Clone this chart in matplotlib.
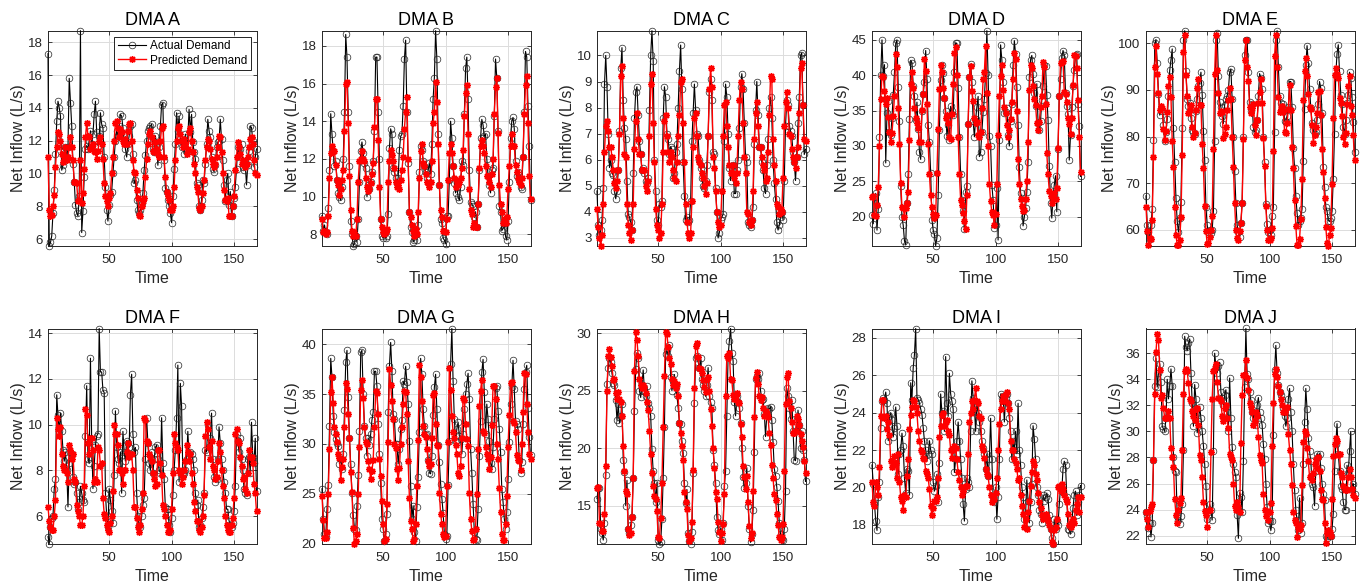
import numpy as np
import matplotlib
matplotlib.use("Agg")
import matplotlib.pyplot as plt
from matplotlib.ticker import MultipleLocator

plt.rcParams['font.family'] = ['Liberation Sans', 'DejaVu Sans']

# ---------------- data (hourly, 168 steps) ----------------
hours = list(range(1, 169))

actual_a = [17.3, 5.6, 5.8, 6.2, 7.6, 9.0, 11.2, 13.2, 14.4, 14.0, 13.5, 10.2, 10.5, 11.4, 11.6, 11.0, 11.6, 15.8, 14.3, 12.9, 10.6, 9.5, 8.1, 7.6,
            7.4, 8.6, 18.7, 6.4, 7.7, 9.8, 11.5, 11.7, 11.5, 12.0, 12.6, 11.8, 12.4, 13.6, 14.4, 12.5, 11.7, 12.3, 13.7, 13.0, 12.8, 11.0, 9.2, 7.8,
            7.1, 8.1, 8.7, 8.9, 10.0, 11.0, 12.0, 12.6, 12.3, 12.9, 13.6, 13.5, 12.8, 12.0, 11.5, 11.0, 11.8, 12.3, 12.9, 13.0, 11.2, 9.4, 9.6, 8.4,
            7.8, 7.6, 7.8, 8.2, 8.8, 10.2, 11.1, 12.0, 12.6, 12.8, 12.9, 13.0, 11.5, 11.3, 12.3, 11.8, 10.5, 11.6, 12.9, 14.2, 14.3, 10.8, 9.1, 8.9,
            8.4, 8.0, 7.6, 7.0, 8.6, 10.3, 11.8, 13.7, 12.6, 13.5, 12.1, 11.6, 12.0, 11.2, 12.4, 11.4, 12.2, 13.9, 12.5, 13.6, 11.9, 11.3, 10.9, 9.4,
            9.3, 8.0, 7.8, 8.4, 9.6, 9.4, 10.6, 11.8, 13.3, 12.6, 12.2, 11.0, 10.3, 10.1, 10.5, 11.6, 11.9, 12.0, 13.3, 12.1, 10.8, 9.3, 8.3, 9.6,
            10.0, 8.1, 8.9, 7.4, 8.0, 8.5, 9.2, 10.3, 11.6, 11.0, 11.5, 11.8, 10.4, 10.2, 10.5, 9.3, 10.5, 11.4, 12.9, 12.8, 12.0, 10.4, 11.0, 11.5]
predicted_a = [11.0, 7.8, 7.4, 7.5, 8.0, 8.7, 10.4, 11.6, 12.5, 12.4, 12.0, 11.2, 10.7, 11.0, 11.6, 10.8, 11.0, 11.6, 12.2, 11.6, 10.8, 9.5, 9.5, 9.4,
               8.3, 8.4, 10.8, 8.2, 8.8, 10.3, 12.2, 13.1, 12.3, 12.2, 11.5, 11.6, 11.8, 11.4, 11.3, 10.9, 11.4, 12.0, 12.2, 11.8, 10.9, 9.4, 8.6, 8.3,
               8.0, 8.5, 8.8, 10.0, 11.0, 12.0, 13.1, 13.2, 12.8, 12.2, 12.7, 12.5, 12.0, 11.8, 12.1, 11.8, 12.6, 13.0, 13.1, 12.0, 10.8, 10.1, 10.0, 9.0,
               8.5, 7.5, 7.4, 8.0, 8.3, 8.5, 9.8, 10.9, 11.8, 12.4, 12.6, 12.2, 11.4, 11.3, 11.9, 11.5, 11.2, 11.0, 12.0, 12.8, 12.9, 11.0, 9.8, 8.9,
               8.6, 8.4, 7.8, 7.8, 8.0, 9.2, 10.8, 12.0, 12.8, 12.9, 12.4, 12.0, 11.6, 12.1, 11.8, 11.2, 11.5, 12.5, 12.8, 12.0, 11.3, 10.6, 10.0, 9.2,
               8.9, 7.9, 7.8, 8.0, 8.8, 9.6, 10.8, 11.6, 12.1, 12.0, 11.5, 10.9, 10.6, 10.4, 10.6, 11.0, 11.6, 12.3, 12.2, 11.3, 10.0, 9.0, 8.4, 8.3,
               8.5, 7.4, 7.4, 7.4, 8.0, 8.6, 10.2, 11.0, 11.9, 11.6, 11.2, 10.6, 10.8, 10.7, 10.4, 10.6, 11.0, 11.6, 12.1, 12.2, 11.8, 10.8, 10.0, 9.9]

actual_b = [9.0, 8.2, 8.5, 8.1, 8.0, 9.4, 11.4, 14.4, 13.3, 12.4, 11.6, 11.9, 10.9, 10.2, 10.0, 9.8, 10.5, 12.0, 14.5, 18.6, 17.4, 14.5, 11.6, 8.7,
            8.0, 7.4, 7.5, 7.9, 7.6, 8.8, 10.8, 12.4, 12.9, 12.3, 11.8, 11.5, 10.0, 10.6, 10.4, 10.8, 11.3, 11.9, 13.5, 17.4, 17.4, 14.5, 12.0, 8.8,
            7.9, 7.8, 8.2, 7.8, 7.9, 9.1, 12.6, 13.6, 13.3, 11.5, 11.3, 11.0, 10.7, 11.0, 12.5, 13.2, 13.3, 14.8, 17.3, 18.3, 14.5, 11.8, 9.2, 8.4,
            8.1, 7.6, 7.7, 8.0, 7.7, 8.5, 11.3, 12.7, 12.5, 11.9, 11.6, 11.3, 11.0, 11.4, 11.8, 11.2, 12.8, 15.2, 16.3, 18.8, 17.3, 13.3, 10.6, 8.8,
            8.6, 7.8, 7.7, 7.5, 9.0, 9.0, 10.9, 14.0, 13.1, 11.6, 10.7, 10.2, 10.5, 10.0, 9.8, 10.5, 11.9, 11.7, 14.4, 16.8, 17.4, 15.2, 11.4, 9.7,
            9.6, 9.5, 8.9, 9.2, 8.4, 9.6, 11.4, 13.1, 14.1, 13.8, 13.2, 13.3, 12.0, 11.1, 10.6, 10.2, 11.4, 11.5, 14.3, 17.3, 16.3, 13.5, 9.5, 9.2,
            8.2, 8.3, 8.6, 7.9, 7.7, 8.7, 10.8, 13.1, 14.0, 14.2, 13.6, 11.9, 11.1, 11.3, 10.9, 10.5, 10.4, 12.1, 14.5, 17.7, 17.4, 14.8, 12.7, 9.8]
predicted_b = [8.8, 8.1, 8.2, 8.0, 8.1, 9.0, 11.0, 12.3, 12.7, 12.4, 12.4, 11.7, 10.9, 10.6, 10.1, 10.4, 10.9, 11.4, 13.5, 16.0, 16.1, 13.9, 11.1, 9.3,
               8.2, 7.9, 8.1, 7.9, 8.8, 10.8, 11.9, 12.0, 12.4, 12.0, 11.9, 11.0, 10.5, 10.3, 10.4, 10.7, 11.2, 11.8, 13.7, 15.2, 15.2, 13.0, 10.5, 8.8,
               8.4, 8.1, 8.0, 8.1, 8.3, 10.8, 11.9, 12.5, 12.2, 11.9, 11.5, 10.8, 10.5, 10.6, 10.4, 10.9, 11.4, 12.1, 13.6, 14.5, 15.3, 12.0, 9.2, 8.9,
               8.5, 8.2, 7.9, 8.3, 8.0, 9.2, 11.0, 12.4, 12.8, 11.8, 11.6, 11.2, 10.8, 10.7, 10.5, 10.8, 11.9, 13.9, 14.5, 16.1, 15.0, 12.8, 10.6, 9.3,
               8.9, 8.2, 8.2, 8.1, 8.8, 10.9, 12.3, 12.8, 12.3, 11.6, 11.0, 10.5, 10.9, 10.6, 10.8, 11.0, 11.5, 12.5, 14.3, 15.5, 15.9, 13.3, 10.4, 9.3,
               9.1, 8.4, 8.6, 8.4, 8.4, 9.6, 11.5, 12.7, 13.0, 12.7, 12.3, 11.6, 11.1, 11.1, 10.8, 10.5, 11.2, 12.0, 14.4, 15.8, 16.3, 13.4, 10.6, 9.6,
               9.2, 8.6, 8.8, 8.6, 8.9, 10.4, 11.6, 12.7, 13.3, 12.7, 12.7, 11.7, 11.3, 11.0, 10.8, 10.6, 11.0, 12.1, 14.4, 15.9, 16.4, 13.9, 11.1, 9.9]

actual_c = [4.8, 3.5, 3.1, 3.3, 3.7, 4.9, 8.9, 10.0, 8.8, 7.0, 5.7, 6.0, 5.5, 5.4, 4.8, 4.5, 4.8, 5.6, 7.1, 9.5, 10.3, 8.3, 7.2, 6.8,
            5.2, 3.9, 3.8, 3.6, 3.3, 5.5, 7.6, 8.6, 8.8, 7.7, 6.7, 6.2, 5.6, 5.7, 5.5, 5.2, 5.1, 5.3, 7.9, 10.0, 10.95, 9.8, 6.0, 4.8,
            3.7, 3.5, 4.3, 4.2, 4.4, 7.6, 8.8, 8.4, 7.0, 6.8, 6.2, 6.5, 6.4, 5.3, 5.5, 6.3, 6.6, 8.0, 9.4, 10.4, 8.7, 5.9, 4.6, 3.7,
            3.8, 3.6, 3.7, 4.4, 6.7, 7.8, 8.9, 7.9, 7.0, 6.9, 6.0, 5.7, 5.3, 5.0, 4.9, 5.2, 5.8, 6.9, 8.6, 9.1, 8.3, 6.3, 6.2, 4.9,
            4.0, 3.0, 3.2, 3.7, 3.8, 3.9, 6.7, 8.9, 8.4, 7.0, 5.7, 5.2, 5.6, 5.8, 4.7, 4.7, 5.6, 6.0, 7.2, 8.8, 9.3, 8.7, 7.4, 6.1,
            5.9, 3.6, 3.5, 3.4, 3.7, 4.2, 6.6, 7.9, 9.0, 7.7, 6.5, 6.5, 5.9, 5.6, 4.9, 4.7, 5.8, 6.8, 8.0, 8.4, 7.6, 6.0, 5.1, 4.5,
            3.6, 3.3, 3.5, 3.8, 4.0, 3.7, 5.2, 7.3, 8.3, 8.1, 7.3, 7.1, 6.9, 6.3, 5.9, 5.2, 6.1, 7.4, 8.4, 10.0, 10.1, 8.1, 6.2, 6.4]
predicted_c = [4.1, 3.4, 3.0, 2.7, 3.1, 4.3, 6.3, 7.3, 7.5, 7.1, 6.5, 6.5, 6.1, 5.6, 5.1, 4.9, 5.2, 5.6, 7.0, 9.2, 9.6, 7.6, 6.2, 6.1,
               4.3, 3.5, 3.2, 2.9, 3.3, 4.3, 6.4, 7.5, 7.8, 6.8, 6.2, 6.2, 5.6, 5.6, 5.6, 5.0, 4.8, 5.2, 6.9, 8.9, 9.3, 7.4, 5.9, 4.1,
               3.5, 3.3, 3.0, 3.2, 4.3, 6.3, 7.5, 7.7, 6.9, 6.3, 5.9, 6.3, 6.1, 5.6, 5.3, 5.2, 5.9, 6.9, 7.7, 9.0, 9.1, 7.4, 5.9, 4.3,
               3.6, 3.2, 3.0, 3.2, 4.4, 6.5, 7.6, 7.8, 6.9, 6.1, 5.9, 5.8, 5.5, 5.3, 5.0, 4.7, 5.1, 6.9, 8.7, 9.5, 8.8, 6.1, 5.7, 4.8,
               4.0, 3.6, 3.4, 3.5, 4.8, 6.9, 8.1, 8.2, 7.3, 6.5, 5.8, 5.5, 5.5, 5.8, 5.3, 5.1, 5.5, 6.9, 8.3, 9.0, 8.7, 7.4, 6.1, 5.5,
               4.0, 3.9, 3.6, 3.5, 3.7, 4.8, 6.8, 7.8, 8.2, 7.3, 6.5, 6.5, 6.1, 5.8, 5.6, 5.2, 5.3, 6.3, 7.7, 9.2, 9.1, 6.8, 5.8, 5.2,
               4.3, 4.2, 3.9, 4.1, 4.0, 5.3, 7.3, 8.2, 8.6, 8.0, 7.0, 6.9, 6.4, 6.1, 5.9, 5.7, 6.1, 6.5, 7.8, 9.5, 9.7, 8.1, 6.8, 6.7]

actual_d = [20.3, 19.0, 22.8, 23.3, 18.1, 21.1, 31.2, 40.1, 45.0, 39.9, 41.5, 27.6, 34.7, 36.3, 32.0, 31.5, 34.0, 37.2, 40.4, 44.5, 45.0, 38.3, 33.6, 24.4,
            19.9, 18.8, 16.6, 16.0, 22.0, 26.0, 33.8, 42.1, 41.8, 38.5, 37.1, 33.7, 36.2, 32.4, 29.2, 28.1, 35.0, 37.3, 39.0, 43.5, 39.5, 33.0, 30.5, 26.2,
            19.6, 18.1, 17.5, 15.9, 17.0, 23.0, 32.3, 39.3, 41.5, 40.3, 36.8, 35.0, 31.4, 33.0, 30.8, 35.6, 35.0, 34.4, 40.5, 44.6, 44.5, 38.2, 31.3, 26.0,
            22.3, 20.8, 18.2, 23.5, 24.4, 33.1, 39.8, 41.6, 39.0, 33.5, 31.3, 33.8, 35.5, 37.0, 28.5, 29.1, 32.0, 34.8, 36.7, 40.3, 46.3, 40.0, 31.4, 30.0,
            24.5, 22.4, 18.4, 18.8, 24.0, 16.7, 30.9, 44.3, 42.2, 39.0, 34.6, 34.8, 35.3, 31.5, 30.0, 33.5, 36.0, 41.5, 44.9, 43.0, 38.4, 33.0, 27.0, 23.4,
            22.7, 18.7, 20.0, 21.2, 23.5, 27.8, 39.8, 42.2, 42.8, 40.2, 37.5, 35.7, 38.8, 33.3, 32.2, 33.6, 36.5, 38.5, 41.5, 41.3, 37.2, 33.7, 27.2, 22.0,
            19.8, 22.8, 24.5, 25.8, 20.7, 29.6, 37.0, 39.5, 42.5, 43.5, 42.8, 37.5, 35.7, 34.5, 28.0, 31.5, 35.5, 38.5, 40.8, 42.8, 43.0, 36.0, 32.8, 25.7]
predicted_d = [22.8, 22.9, 20.2, 20.1, 21.7, 24.2, 30.0, 36.6, 39.9, 39.8, 37.8, 36.0, 36.8, 34.1, 32.0, 30.5, 31.8, 34.2, 37.0, 43.0, 41.1, 35.3, 30.3, 24.7,
               21.4, 21.2, 20.0, 21.3, 21.9, 23.5, 30.8, 38.7, 40.5, 38.2, 35.3, 34.0, 33.2, 32.5, 30.6, 30.5, 35.1, 37.4, 42.3, 40.6, 36.0, 30.3, 26.0, 23.0,
               21.4, 20.4, 19.8, 20.2, 26.2, 32.4, 38.0, 41.5, 40.5, 38.2, 36.8, 34.0, 34.4, 33.2, 31.3, 31.0, 34.5, 38.7, 43.1, 44.0, 40.0, 31.3, 26.0, 22.4,
               21.7, 20.5, 19.4, 18.2, 23.0, 33.1, 39.8, 41.3, 37.8, 36.4, 34.0, 33.2, 33.4, 31.5, 31.3, 32.0, 35.4, 39.5, 40.4, 44.2, 37.5, 30.0, 24.6, 22.2,
               20.6, 20.2, 18.8, 20.4, 24.6, 31.6, 37.0, 39.9, 41.5, 37.9, 35.5, 34.7, 33.0, 31.2, 32.3, 33.8, 36.2, 39.4, 43.2, 42.3, 35.0, 28.1, 24.6, 22.5,
               21.5, 20.8, 21.0, 22.5, 25.0, 30.6, 37.9, 41.5, 41.0, 38.5, 36.7, 35.8, 33.3, 32.2, 33.4, 35.5, 37.0, 41.9, 41.2, 36.0, 29.0, 26.0, 23.7, 22.9,
               22.0, 22.6, 23.4, 22.5, 24.0, 29.7, 37.0, 41.8, 41.9, 42.0, 37.6, 37.3, 36.2, 34.0, 33.1, 31.7, 34.0, 38.6, 42.9, 42.7, 41.0, 36.5, 31.2, 26.3]

actual_e = [67.3, 61.0, 59.5, 58.0, 61.0, 64.5, 79.2, 100.0, 100.8, 95.7, 89.2, 84.6, 86.0, 85.5, 82.5, 79.0, 81.0, 83.7, 88.8, 94.2, 96.5, 98.8, 81.8, 74.5,
            66.8, 61.8, 59.5, 62.5, 66.0, 81.8, 100.6, 102.7, 94.0, 88.0, 86.6, 87.2, 84.0, 81.5, 81.0, 80.5, 85.5, 88.0, 90.8, 91.5, 93.8, 89.0, 81.2, 74.9,
            65.0, 61.0, 59.5, 60.0, 59.3, 60.0, 64.0, 79.0, 100.7, 102.2, 93.0, 87.5, 86.3, 84.5, 82.8, 86.8, 88.0, 88.8, 90.0, 93.8, 94.5, 88.0, 80.0, 72.7,
            65.7, 61.0, 59.5, 58.5, 61.5, 65.8, 80.0, 97.5, 100.6, 100.8, 93.8, 87.5, 85.5, 87.0, 82.0, 81.0, 81.5, 83.6, 88.8, 93.5, 92.5, 90.2, 80.0, 74.5,
            65.5, 61.2, 59.5, 60.0, 59.0, 63.0, 64.8, 81.0, 100.7, 102.7, 95.0, 88.8, 87.3, 85.5, 87.0, 83.3, 83.2, 84.5, 86.4, 91.8, 91.8, 86.3, 77.5, 73.3,
            67.2, 63.6, 61.0, 61.8, 62.5, 64.5, 74.7, 86.0, 95.3, 99.5, 95.8, 90.3, 86.2, 83.0, 81.5, 80.6, 81.0, 83.5, 87.0, 91.8, 90.4, 85.0, 73.5, 69.2,
            65.0, 64.0, 62.0, 61.8, 62.5, 64.0, 71.0, 80.6, 93.2, 97.8, 99.7, 94.0, 89.0, 87.0, 82.0, 80.6, 83.5, 87.2, 89.0, 93.8, 92.5, 88.5, 83.2, 76.7]
predicted_e = [65.0, 59.8, 56.7, 58.3, 58.0, 62.2, 75.7, 95.0, 99.5, 93.5, 89.3, 85.8, 86.5, 86.2, 81.7, 79.3, 81.2, 85.3, 90.8, 92.8, 88.4, 79.0, 73.5, 64.8,
               58.8, 56.8, 56.7, 57.9, 62.7, 76.1, 98.2, 101.8, 93.2, 88.8, 85.0, 85.8, 86.8, 82.0, 80.0, 80.7, 85.8, 90.5, 92.3, 86.7, 86.7, 78.4, 73.3, 65.2,
               59.8, 57.0, 57.1, 58.5, 60.0, 63.0, 77.3, 93.5, 101.7, 94.2, 89.3, 85.0, 85.5, 85.2, 79.7, 80.5, 82.0, 85.6, 87.8, 90.5, 88.0, 80.0, 73.5, 65.7,
               60.0, 58.2, 57.9, 59.8, 61.5, 65.7, 79.5, 96.5, 100.7, 95.0, 92.0, 86.3, 85.1, 86.2, 86.9, 82.4, 80.4, 83.5, 87.3, 89.5, 92.4, 87.3, 79.6, 73.6,
               65.2, 59.9, 57.8, 57.8, 58.2, 60.5, 76.9, 97.3, 101.7, 95.0, 88.5, 85.3, 85.9, 86.5, 85.3, 81.0, 80.7, 83.0, 85.9, 91.1, 85.6, 77.7, 73.2, 66.4,
               60.8, 56.7, 56.7, 58.1, 62.4, 71.0, 87.9, 94.0, 96.8, 93.0, 89.2, 86.3, 86.0, 82.5, 78.7, 80.4, 82.0, 85.0, 89.6, 89.8, 84.6, 77.4, 72.3, 66.8,
               60.7, 57.2, 56.6, 58.8, 60.3, 69.8, 84.0, 93.2, 94.8, 93.4, 92.6, 88.3, 87.2, 84.5, 79.9, 78.4, 80.7, 87.0, 90.8, 92.9, 86.6, 84.7, 80.3, 75.0]

actual_f = [5.1, 4.8, 5.5, 5.9, 6.0, 7.2, 7.6, 11.3, 10.4, 9.7, 10.5, 9.7, 8.9, 8.4, 8.8, 8.0, 6.4, 8.3, 8.8, 8.7, 7.7, 7.4, 7.5, 7.0,
            6.3, 6.6, 7.3, 7.0, 6.7, 6.6, 9.5, 11.7, 8.5, 8.3, 12.9, 9.3, 7.2, 8.2, 9.1, 9.5, 9.6, 14.2, 12.3, 12.3, 11.5, 11.4, 7.0, 6.0,
            5.5, 7.2, 6.7, 6.2, 5.7, 7.8, 10.6, 9.0, 8.5, 8.3, 8.8, 7.0, 9.7, 8.8, 8.4, 9.3, 9.2, 9.0, 11.3, 12.2, 9.6, 8.8, 9.0, 7.0,
            6.0, 5.6, 5.5, 6.0, 6.5, 6.8, 8.5, 10.3, 9.2, 8.3, 8.0, 8.8, 7.9, 8.5, 9.0, 9.1, 8.5, 8.0, 7.9, 10.3, 8.3, 7.6, 6.4, 6.3,
            6.3, 5.6, 5.3, 5.9, 6.9, 8.0, 8.9, 10.3, 12.6, 7.5, 11.8, 10.8, 7.8, 7.9, 8.0, 8.5, 9.7, 8.6, 8.8, 8.7, 8.5, 8.0, 7.0, 6.5,
            6.7, 5.5, 5.6, 5.9, 6.4, 7.0, 8.9, 8.8, 10.0, 9.0, 9.4, 10.5, 8.5, 7.7, 7.5, 7.6, 8.5, 9.9, 9.2, 8.5, 8.0, 7.5, 7.0, 6.3,
            6.3, 5.8, 5.6, 5.5, 5.7, 6.2, 7.3, 9.6, 9.3, 8.8, 9.4, 8.5, 8.0, 7.2, 7.0, 6.9, 8.5, 8.6, 7.9, 10.1, 8.6, 8.3, 9.4, 7.1]
predicted_f = [6.4, 5.8, 5.5, 5.4, 5.4, 6.0, 6.7, 10.3, 9.8, 9.5, 9.9, 8.7, 8.2, 8.0, 8.0, 7.9, 7.5, 9.1, 8.9, 8.5, 8.7, 7.6, 7.5, 6.5,
               6.2, 6.0, 5.6, 5.6, 6.0, 7.3, 10.7, 10.4, 9.2, 8.7, 9.4, 9.4, 8.9, 7.5, 7.6, 7.5, 9.0, 8.9, 8.2, 8.3, 6.8, 6.1, 5.9, 5.6,
               5.4, 5.3, 5.7, 6.0, 7.1, 10.0, 9.6, 9.6, 9.1, 8.0, 8.0, 7.9, 7.4, 8.0, 8.0, 8.8, 9.2, 8.6, 8.7, 8.7, 8.0, 6.4, 6.4, 5.9,
               5.5, 5.3, 5.6, 6.3, 7.0, 10.3, 10.2, 9.3, 9.2, 8.7, 8.6, 8.4, 7.9, 7.6, 7.3, 7.4, 8.9, 8.9, 8.3, 7.8, 6.5, 6.3, 6.0, 5.6,
               5.3, 5.3, 5.4, 6.3, 7.9, 9.6, 9.2, 9.0, 8.9, 8.0, 7.9, 7.4, 7.7, 8.0, 8.4, 9.1, 8.8, 8.4, 8.7, 7.9, 7.4, 6.6, 6.2, 5.8,
               5.8, 5.4, 5.3, 5.5, 6.0, 6.9, 9.5, 10.1, 9.8, 9.0, 8.5, 9.3, 8.2, 8.0, 7.6, 7.7, 8.4, 9.2, 8.8, 8.0, 7.3, 6.8, 6.0, 5.6,
               5.4, 5.3, 5.3, 5.6, 5.9, 6.8, 9.6, 9.8, 9.3, 9.2, 8.6, 8.2, 7.6, 7.7, 7.2, 7.0, 7.9, 8.9, 8.6, 8.6, 8.3, 7.4, 7.0, 6.2]

actual_g = [25.5, 22.5, 21.0, 20.7, 23.5, 25.9, 31.8, 38.6, 36.7, 32.8, 31.2, 30.5, 30.1, 29.8, 28.0, 28.5, 27.5, 29.0, 33.4, 38.2, 39.4, 34.7, 30.6, 28.0,
            25.1, 22.9, 21.5, 21.4, 23.8, 26.9, 31.3, 39.2, 39.4, 35.0, 31.8, 30.6, 28.8, 30.6, 29.9, 31.0, 32.4, 33.2, 37.3, 37.3, 35.8, 32.0, 29.0, 26.1,
            22.5, 21.5, 20.3, 21.0, 23.0, 33.2, 37.8, 40.2, 37.3, 33.0, 32.5, 30.0, 30.0, 28.0, 29.5, 31.5, 32.4, 36.3, 36.0, 37.8, 36.2, 34.0, 30.3, 25.8,
            22.5, 23.8, 21.2, 20.3, 23.7, 26.7, 31.2, 38.6, 37.0, 33.5, 31.8, 30.9, 31.0, 28.4, 27.1, 27.0, 28.8, 32.9, 35.7, 37.0, 33.5, 29.9, 28.2, 26.0,
            24.5, 23.1, 21.0, 20.5, 20.8, 25.9, 30.3, 38.0, 41.6, 36.3, 32.5, 30.3, 31.5, 32.2, 30.8, 30.5, 29.0, 31.0, 33.5, 35.0, 36.0, 37.1, 34.5, 29.5,
            27.1, 24.0, 21.2, 20.5, 20.4, 23.5, 28.8, 32.3, 37.2, 38.5, 35.2, 31.0, 34.0, 32.5, 30.3, 28.1, 27.5, 29.7, 32.5, 35.6, 35.8, 33.3, 31.5, 29.2,
            25.5, 24.2, 22.5, 21.5, 23.2, 26.5, 30.2, 34.0, 35.7, 38.4, 35.5, 32.3, 32.0, 31.5, 28.4, 27.1, 28.2, 32.0, 35.5, 37.2, 37.9, 33.6, 30.7, 28.9]
predicted_g = [24.8, 22.4, 20.6, 20.6, 21.2, 25.0, 29.5, 35.2, 36.7, 34.1, 31.7, 31.0, 30.2, 29.0, 28.6, 26.4, 27.7, 28.5, 31.7, 36.1, 35.5, 33.0, 30.6, 27.2,
               25.2, 21.6, 20.0, 20.3, 21.0, 25.0, 29.7, 35.4, 36.4, 34.6, 31.7, 30.2, 30.0, 28.3, 27.5, 26.5, 27.3, 28.4, 31.7, 35.3, 35.1, 33.0, 28.5, 26.8,
               24.3, 22.0, 20.3, 20.5, 24.0, 30.2, 37.5, 35.9, 34.3, 32.5, 30.0, 29.6, 27.5, 26.4, 27.6, 30.0, 31.7, 34.0, 35.3, 35.2, 33.0, 28.3, 24.6, 22.3,
               21.5, 20.3, 20.5, 22.0, 25.8, 30.4, 37.9, 36.7, 34.3, 31.8, 31.0, 30.7, 29.5, 28.3, 27.8, 28.0, 30.6, 34.9, 35.1, 32.0, 29.9, 29.8, 25.1, 23.0,
               22.0, 21.0, 20.7, 20.8, 25.8, 30.2, 37.6, 35.4, 32.8, 31.2, 30.6, 29.9, 29.0, 27.1, 26.8, 27.8, 30.6, 34.6, 34.4, 32.0, 30.5, 29.8, 25.1, 22.5,
               21.3, 20.4, 20.5, 21.5, 25.0, 29.5, 33.8, 35.3, 36.4, 31.3, 31.1, 29.7, 29.0, 28.5, 27.5, 28.7, 31.9, 35.8, 35.8, 34.5, 30.0, 28.5, 25.6, 23.2,
               21.0, 20.4, 20.4, 22.0, 24.8, 29.7, 32.9, 36.1, 36.2, 32.3, 32.1, 31.2, 28.9, 28.4, 28.3, 27.4, 30.0, 33.2, 37.1, 37.0, 34.0, 31.2, 29.0, 28.5]

actual_h = [15.6, 16.5, 16.5, 13.0, 12.6, 12.0, 13.5, 17.7, 25.6, 27.0, 27.8, 27.5, 26.5, 25.7, 25.5, 24.2, 22.4, 23.8, 22.2, 22.8, 23.8, 19.0, 17.9, 15.0,
            17.2, 13.0, 12.6, 13.3, 14.0, 17.4, 23.2, 26.9, 28.3, 27.8, 25.0, 24.4, 25.5, 26.8, 25.0, 24.5, 25.4, 23.9, 23.5, 22.8, 19.9, 18.0, 17.0, 15.3,
            17.0, 12.0, 11.7, 11.8, 13.8, 17.4, 21.8, 28.2, 28.5, 28.0, 29.0, 26.2, 25.0, 25.8, 26.4, 25.3, 24.6, 23.5, 22.2, 22.1, 20.6, 19.6, 17.0, 15.2,
            16.4, 12.6, 11.9, 11.7, 12.7, 17.8, 23.9, 27.8, 28.0, 27.5, 27.0, 27.8, 26.0, 25.5, 25.0, 24.5, 25.5, 27.0, 24.5, 24.0, 23.5, 19.8, 18.5, 17.0,
            14.0, 12.9, 12.5, 13.0, 12.0, 13.5, 16.7, 18.0, 22.8, 28.0, 29.3, 30.4, 28.3, 27.6, 24.0, 22.8, 24.5, 24.0, 23.5, 22.2, 20.0, 17.5, 16.5, 17.0,
            18.3, 15.0, 13.0, 11.8, 12.5, 14.6, 19.7, 26.0, 26.3, 26.0, 26.5, 25.0, 24.2, 24.3, 23.0, 21.0, 22.9, 23.5, 23.4, 23.6, 22.4, 20.5, 18.2, 17.6,
            16.6, 15.4, 13.5, 12.5, 12.1, 12.0, 13.0, 16.3, 25.2, 24.5, 23.5, 22.5, 24.2, 21.5, 19.0, 18.9, 21.5, 23.3, 22.0, 20.0, 21.5, 19.8, 19.0, 17.1]
predicted_h = [16.5, 16.6, 13.5, 13.4, 12.8, 12.8, 14.3, 18.4, 25.0, 28.0, 28.6, 27.9, 27.1, 25.9, 26.0, 24.8, 24.3, 24.9, 24.3, 24.0, 22.8, 20.2, 18.0, 16.3,
               16.0, 13.0, 12.4, 12.6, 14.0, 17.4, 26.7, 30.1, 29.4, 28.0, 26.0, 25.5, 25.2, 25.5, 25.3, 24.8, 24.0, 23.3, 21.5, 19.5, 17.8, 16.7, 15.8, 15.6,
               14.5, 12.3, 12.2, 13.9, 17.0, 21.8, 26.3, 30.1, 29.9, 28.8, 27.8, 27.3, 26.0, 25.5, 25.8, 25.2, 25.6, 24.5, 22.2, 21.3, 20.2, 19.0, 16.2, 15.3,
               14.7, 12.4, 11.9, 12.2, 13.6, 18.1, 25.2, 28.9, 29.1, 27.9, 27.0, 26.9, 26.5, 25.9, 25.3, 24.9, 26.0, 26.2, 25.0, 23.4, 21.9, 20.0, 18.3, 16.2,
               15.6, 13.6, 12.7, 11.9, 12.6, 13.4, 16.0, 24.5, 28.0, 27.8, 28.3, 26.0, 25.9, 24.6, 24.3, 24.5, 24.8, 24.0, 23.9, 22.1, 21.0, 18.4, 17.5, 16.4,
               17.6, 15.3, 13.2, 12.2, 12.6, 16.3, 22.7, 26.1, 26.6, 25.6, 24.5, 24.2, 24.4, 23.5, 22.8, 23.2, 23.0, 22.7, 21.3, 20.3, 18.5, 17.4, 16.0, 15.5,
               14.3, 13.3, 12.3, 12.0, 12.3, 13.4, 18.0, 23.8, 26.2, 26.5, 24.1, 23.5, 22.3, 21.3, 21.3, 21.5, 22.8, 22.5, 22.0, 21.2, 20.6, 20.1, 18.9, 17.8]

actual_i = [21.2, 20.2, 19.1, 18.2, 17.7, 19.5, 20.3, 23.2, 24.6, 24.8, 24.7, 25.1, 24.5, 22.5, 23.8, 24.0, 23.6, 22.7, 23.2, 24.3, 23.3, 20.7, 21.8, 22.0,
            22.9, 22.2, 20.5, 19.7, 21.0, 20.9, 19.6, 25.6, 24.7, 26.4, 27.1, 28.5, 24.8, 24.7, 24.5, 24.2, 23.9, 23.2, 22.5, 22.0, 21.4, 21.8, 22.5, 22.0,
            21.8, 20.3, 19.8, 20.1, 20.7, 19.2, 21.3, 25.0, 24.0, 24.1, 23.0, 27.0, 24.5, 23.8, 26.1, 25.0, 24.6, 24.2, 20.8, 21.5, 22.5, 23.5, 22.5, 21.5,
            20.5, 19.1, 18.2, 19.9, 20.5, 20.3, 20.0, 23.0, 25.7, 24.8, 24.3, 23.0, 24.5, 24.0, 23.5, 23.0, 22.5, 22.1, 21.8, 21.0, 21.8, 20.6, 21.5, 23.7,
            21.5, 19.5, 19.2, 20.0, 18.3, 19.5, 21.5, 25.0, 24.8, 24.9, 23.5, 24.8, 25.0, 24.5, 23.7, 23.0, 21.5, 22.5, 22.0, 23.0, 21.8, 24.5, 22.0, 21.2,
            20.0, 19.5, 18.3, 18.5, 20.4, 19.3, 18.1, 19.2, 20.2, 23.3, 22.6, 21.5, 20.0, 19.6, 18.8, 18.6, 18.1, 19.6, 19.3, 19.5, 19.7, 19.4, 18.5, 17.8,
            17.3, 17.0, 18.3, 17.8, 18.2, 18.0, 19.1, 20.0, 19.8, 21.0, 21.4, 21.2, 19.5, 17.8, 17.7, 17.5, 18.1, 18.9, 19.6, 19.8, 18.5, 19.2, 19.6, 20.1]
predicted_i = [20.3, 19.2, 19.0, 20.3, 20.0, 19.6, 21.1, 23.8, 24.7, 24.7, 23.7, 23.8, 23.1, 23.5, 22.8, 21.4, 21.1, 21.2, 21.7, 21.3, 20.5, 21.8, 20.3, 19.5,
               19.3, 18.8, 19.6, 19.5, 20.6, 21.5, 23.1, 23.9, 24.3, 24.7, 24.6, 24.3, 24.0, 23.0, 22.5, 22.0, 21.9, 21.6, 21.5, 20.9, 20.7, 20.5, 19.9, 19.0,
               18.5, 18.9, 19.3, 19.3, 19.5, 20.5, 22.7, 23.3, 23.9, 24.0, 23.3, 23.5, 23.6, 23.0, 22.8, 22.0, 21.6, 22.0, 22.2, 22.1, 21.5, 20.8, 20.4, 20.0,
               19.6, 19.8, 20.0, 20.1, 20.1, 21.8, 23.5, 24.0, 24.6, 24.2, 24.7, 25.3, 24.6, 24.5, 23.8, 23.7, 22.2, 22.0, 21.6, 21.0, 20.7, 20.6, 20.0, 19.6,
               19.2, 19.5, 19.4, 19.7, 20.5, 22.0, 23.4, 24.2, 24.6, 24.9, 24.6, 25.0, 25.1, 24.5, 24.2, 22.5, 22.0, 22.0, 21.5, 21.3, 21.0, 20.4, 20.5, 19.6,
               19.0, 18.6, 17.9, 18.3, 17.8, 18.7, 19.3, 20.1, 20.8, 21.4, 21.2, 20.7, 20.4, 19.7, 19.2, 18.9, 18.5, 18.3, 18.5, 18.6, 18.4, 18.2, 18.0, 17.8,
               17.1, 17.0, 17.7, 17.9, 18.3, 20.0, 20.1, 19.8, 20.2, 19.9, 19.6, 19.4, 19.2, 18.6, 18.0, 17.9, 18.2, 18.3, 18.1, 18.8, 19.1, 19.5, 18.7, 19.5]

actual_j = [23.8, 23.5, 22.6, 23.0, 21.9, 23.0, 27.8, 33.5, 35.6, 33.4, 34.5, 35.2, 33.8, 30.4, 30.2, 30.0, 31.0, 34.0, 32.5, 33.5, 34.8, 33.5, 28.0, 27.0,
            26.9, 23.5, 23.2, 22.9, 23.5, 24.4, 28.6, 37.3, 36.5, 36.2, 36.8, 37.1, 34.5, 32.2, 30.4, 33.6, 32.5, 29.9, 30.8, 31.9, 31.0, 30.0, 28.9, 27.5,
            25.8, 23.3, 23.8, 24.4, 24.0, 23.2, 28.5, 36.0, 35.0, 34.5, 35.0, 35.3, 33.0, 32.6, 32.0, 32.8, 33.2, 31.5, 30.0, 34.1, 31.0, 28.8, 27.5, 26.9,
            26.5, 23.6, 21.8, 25.3, 25.0, 23.8, 27.7, 33.4, 37.9, 34.4, 34.0, 33.0, 32.4, 31.5, 31.0, 31.5, 30.5, 32.0, 32.6, 31.5, 31.0, 30.5, 29.0, 27.9,
            26.0, 24.2, 23.0, 23.1, 22.4, 23.1, 29.7, 34.7, 36.6, 34.5, 33.6, 33.0, 32.8, 32.4, 31.8, 31.2, 30.4, 31.0, 32.5, 33.3, 31.5, 30.0, 27.5, 25.5,
            24.0, 23.2, 22.4, 24.9, 22.2, 23.0, 27.5, 30.7, 33.3, 31.7, 29.5, 28.5, 27.7, 26.0, 25.7, 24.3, 27.0, 28.3, 28.0, 28.3, 27.2, 26.0, 25.2, 24.7,
            22.0, 21.8, 22.2, 22.0, 22.0, 22.5, 23.7, 27.0, 29.0, 30.6, 28.3, 27.0, 25.8, 25.6, 24.6, 24.0, 24.0, 27.4, 26.8, 28.5, 30.0, 25.6, 26.0, 25.2]
predicted_j = [23.8, 23.3, 22.7, 23.9, 24.2, 24.4, 27.8, 32.9, 36.1, 37.5, 37.0, 34.7, 32.6, 32.8, 31.8, 31.0, 31.0, 31.1, 31.6, 31.0, 28.7, 28.0, 27.3, 24.8,
               23.6, 23.0, 24.0, 24.5, 24.9, 28.6, 32.9, 34.6, 34.8, 34.6, 33.7, 32.5, 32.3, 31.6, 31.2, 30.9, 31.7, 31.8, 30.5, 28.2, 27.8, 26.5, 24.6, 23.9,
               23.6, 22.7, 23.9, 24.0, 28.4, 32.5, 34.6, 34.9, 35.2, 33.8, 32.6, 32.5, 32.3, 31.2, 30.8, 31.8, 32.0, 31.0, 30.3, 28.3, 28.0, 27.8, 26.0, 24.3,
               24.0, 24.6, 24.2, 23.8, 29.1, 32.8, 34.3, 34.3, 35.5, 34.1, 33.2, 32.2, 31.9, 31.5, 30.5, 30.8, 31.5, 31.2, 29.6, 28.2, 27.8, 27.6, 25.2, 24.0,
               23.5, 23.9, 23.2, 23.8, 24.5, 28.9, 32.2, 34.4, 34.8, 34.2, 33.5, 33.0, 32.5, 32.0, 31.5, 31.5, 31.8, 31.9, 29.8, 28.6, 27.5, 25.9, 23.8, 23.2,
               23.0, 21.9, 22.7, 22.5, 22.8, 25.9, 29.2, 30.0, 29.8, 28.7, 27.7, 26.5, 26.6, 26.3, 26.8, 27.5, 27.9, 27.2, 28.0, 27.0, 25.5, 24.8, 24.7, 23.0,
               21.4, 22.2, 22.4, 22.3, 22.0, 24.8, 28.1, 29.0, 29.5, 29.3, 28.2, 28.3, 26.8, 26.5, 25.8, 25.5, 25.6, 25.5, 26.5, 27.1, 26.5, 25.6, 25.1, 24.9]

panel_titles = ["DMA A", "DMA B", "DMA C", "DMA D", "DMA E",
                "DMA F", "DMA G", "DMA H", "DMA I", "DMA J"]
ytick_steps = [2, 2, 1, 5, 10, 2, 5, 5, 2, 2]

series = [(actual_a, predicted_a), (actual_b, predicted_b), (actual_c, predicted_c),
          (actual_d, predicted_d), (actual_e, predicted_e), (actual_f, predicted_f),
          (actual_g, predicted_g), (actual_h, predicted_h), (actual_i, predicted_i),
          (actual_j, predicted_j)]

bad = [(panel_titles[k], len(a), len(p)) for k, (a, p) in enumerate(series)
       if len(a) != 168 or len(p) != 168]
if bad:
    raise SystemExit("length mismatch: %s" % bad)

# ---------------- figure ----------------
W, H = 1365, 586
fig = plt.figure(figsize=(W / 100, H / 100), dpi=100)

col_left_px = [48, 322, 597, 872, 1146]
ax_w_px = 208.5
ax_h_px = 215
row_top_px = [30.7, 328.5]

asterisk = (8, 2, 0)   # MATLAB-like '*' marker (8 spokes)
text_col = '#262626'
for k in range(10):
    r, c = divmod(k, 5)
    left = col_left_px[c] / W
    bottom = 1 - (row_top_px[r] + ax_h_px) / H
    ax = fig.add_axes([left, bottom, ax_w_px / W, ax_h_px / H])
    act, pred = series[k]
    ax.plot(hours, act, color='black', lw=0.8, marker='o', ms=4.8,
            mfc='none', mec='#222222', mew=0.5, label='Actual Demand',
            zorder=3, clip_on=False)
    ax.plot(hours, pred, color='#ff0000', lw=1.0, marker=asterisk, ms=5.0,
            mfc='#ff0000', mec='#ff0000', mew=1.0, label='Predicted Demand',
            zorder=4, clip_on=False)
    lo = min(min(act), min(pred))
    hi = max(max(act), max(pred))
    ax.set_xlim(1, 168)
    ax.set_ylim(lo, hi)
    ax.xaxis.set_major_locator(MultipleLocator(50))
    ax.yaxis.set_major_locator(MultipleLocator(ytick_steps[k]))
    ax.grid(True, color='#dcdcdc', lw=0.7)
    ax.set_axisbelow(True)
    ax.tick_params(direction='in', length=3, width=0.6, top=True, right=True,
                   labelsize=9.5, colors=text_col)
    ax.tick_params(axis='x', pad=6)
    ax.tick_params(axis='y', pad=4)
    for sp in ax.spines.values():
        sp.set_color(text_col)
        sp.set_linewidth(0.7)
    ax.set_title(panel_titles[k], fontsize=13, pad=4, color='black')
    ax.set_xlabel('Time', fontsize=11.5, color=text_col, labelpad=3.5)
    ax.set_ylabel('Net Inflow (L/s)', fontsize=11.5, color=text_col, labelpad=1)
    if k == 0:
        leg = ax.legend(loc='upper right', fontsize=8.5, fancybox=False,
                        framealpha=1, edgecolor='black', borderaxespad=0.5,
                        handlelength=2.4, borderpad=0.3, labelspacing=0.2,
                        handletextpad=0.3)
        leg.get_frame().set_linewidth(0.6)
        leg.set_zorder(10)

fig.savefig('out.png', dpi=100)
